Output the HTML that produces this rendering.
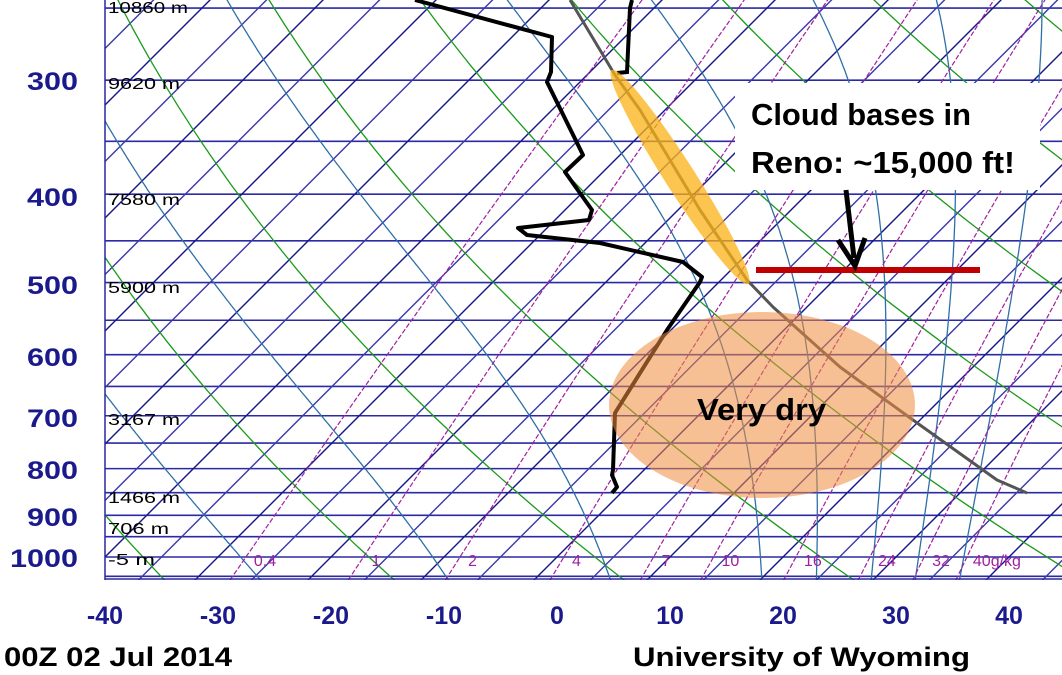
<!DOCTYPE html>
<html><head><meta charset="utf-8"><style>
html,body{margin:0;padding:0;background:#fff;}
body{width:1062px;height:675px;overflow:hidden;position:relative;font-family:"Liberation Sans",sans-serif;}
</style></head><body>
<svg id="s" width="1062" height="675" viewBox="0 0 1062 675" xmlns="http://www.w3.org/2000/svg" style="position:absolute;left:0;top:0">
<defs><clipPath id="c"><rect x="105" y="0" width="957" height="580"/></clipPath></defs>
<g id="grid" clip-path="url(#c)"></g>
<line x1="105" y1="0" x2="105" y2="580" stroke="#2828a0" stroke-width="1.5"/>
<line x1="105" y1="579" x2="1062" y2="579" stroke="#2828a0" stroke-width="1.5"/>
<g font-size="16" fill="#000">
<text x="108" y="13" textLength="80" lengthAdjust="spacingAndGlyphs">10860 m</text>
<text x="108" y="89" textLength="72" lengthAdjust="spacingAndGlyphs">9620 m</text>
<text x="108" y="205" textLength="72" lengthAdjust="spacingAndGlyphs">7580 m</text>
<text x="108" y="293" textLength="72" lengthAdjust="spacingAndGlyphs">5900 m</text>
<text x="108" y="425" textLength="72" lengthAdjust="spacingAndGlyphs">3167 m</text>
<text x="108" y="503" textLength="72" lengthAdjust="spacingAndGlyphs">1466 m</text>
<text x="108" y="534" textLength="61" lengthAdjust="spacingAndGlyphs">706 m</text>
<text x="108" y="565" textLength="47" lengthAdjust="spacingAndGlyphs">-5 m</text>
</g>
<g id="wl" font-size="16" fill="#a020a0"></g>
<g clip-path="url(#c)">
<polyline fill="none" stroke="#000" stroke-width="4" stroke-linejoin="round" points="415,0 552,37 551,72 547,82 583,155 565,172 592,210 589,220 518,228 527,235 600,243 683,262 702,277 700,282 667,330 615,413 613,470 612,475 617,487 612,493"/>
<polyline fill="none" stroke="#555" stroke-width="3" stroke-linejoin="round" points="1027,493 997,480 913,420 840,367 773,307 747,280 700,210 640,110 615,75 570,0"/>
<polyline fill="none" stroke="#000" stroke-width="4" points="632,0 630,8 627,72 617,73"/>
</g>
<ellipse cx="762" cy="405" rx="153" ry="93" fill="rgba(240,140,60,0.55)"/>
<ellipse cx="0" cy="0" rx="127" ry="15" fill="rgba(250,178,20,0.75)" transform="translate(680,177) rotate(57.4)"/>
<rect x="735" y="83" width="305" height="107" fill="#fff"/>
<g font-weight="bold" font-size="31" fill="#000">
<text x="751" y="125" textLength="220" lengthAdjust="spacingAndGlyphs">Cloud bases in</text>
<text x="751" y="173" textLength="264" lengthAdjust="spacingAndGlyphs">Reno: ~15,000 ft!</text>
<text x="697" y="420" textLength="129" lengthAdjust="spacingAndGlyphs">Very dry</text>
</g>
<line x1="756" y1="270" x2="980" y2="270" stroke="#c00000" stroke-width="6"/>
<line x1="846" y1="190" x2="854" y2="258" stroke="#000" stroke-width="5"/>
<polyline points="838,240 855,266 865,238" fill="none" stroke="#000" stroke-width="5"/>
<g font-size="25" font-weight="bold" fill="#1a1a8c">
<text x="27" y="90" textLength="51" lengthAdjust="spacingAndGlyphs">300</text>
<text x="27" y="206" textLength="51" lengthAdjust="spacingAndGlyphs">400</text>
<text x="27" y="294" textLength="51" lengthAdjust="spacingAndGlyphs">500</text>
<text x="27" y="366" textLength="51" lengthAdjust="spacingAndGlyphs">600</text>
<text x="27" y="427" textLength="51" lengthAdjust="spacingAndGlyphs">700</text>
<text x="27" y="479" textLength="51" lengthAdjust="spacingAndGlyphs">800</text>
<text x="27" y="526" textLength="51" lengthAdjust="spacingAndGlyphs">900</text>
<text x="10" y="567" textLength="68" lengthAdjust="spacingAndGlyphs">1000</text>
</g>
<g font-size="25" font-weight="bold" fill="#1a1a8c" text-anchor="middle">
<text x="105" y="624">-40</text><text x="218" y="624">-30</text><text x="331" y="624">-20</text>
<text x="444" y="624">-10</text><text x="557" y="624">0</text><text x="670" y="624">10</text>
<text x="783" y="624">20</text><text x="896" y="624">30</text><text x="1009" y="624">40</text>
</g>
<g font-size="27" font-weight="bold" fill="#000">
<text x="4" y="666" textLength="228" lengthAdjust="spacingAndGlyphs">00Z 02 Jul 2014</text>
<text x="633" y="666" textLength="337" lengthAdjust="spacingAndGlyphs">University of Wyoming</text>
</g>
</svg>
<script>
(function(){
var NS="http://www.w3.org/2000/svg",g=document.getElementById('grid'),wl=document.getElementById('wl');
function Y(p){return 557-396*Math.log(1000/p);}
function X(T,p){return 557+11.3*T+(557-Y(p));}
function add(tag,a,par){var e=document.createElementNS(NS,tag);for(var k in a)e.setAttribute(k,a[k]);(par||g).appendChild(e);return e;}
var ps=[];for(var p=1060;p>=240;p*=0.985)ps.push(p);
function line(f,st,sw,da){var pts=[];for(var i=0;i<ps.length;i++){var T=f(ps[i]);pts.push(X(T,ps[i]).toFixed(1)+','+Y(ps[i]).toFixed(1));}
var a={points:pts.join(' '),fill:'none',stroke:st,'stroke-width':sw};if(da)a['stroke-dasharray']=da;add('polyline',a);}
for(var p=250;p<=1050;p+=50){var y=Y(p);add('line',{x1:105,x2:1062,y1:y,y2:y,stroke:'#2a2aa6','stroke-width':1.6});}
for(var T=-160;T<=60;T+=5){var x1=X(T,1060),y1=Y(1060),x2=X(T,240),y2=Y(240);add('line',{x1:x1,y1:y1,x2:x2,y2:y2,stroke:(T%10==0?'#14148c':'#3a3aa8'),'stroke-width':1.4});}
for(var th=196.5;th<=500;th+=20){(function(th){line(function(p){return th*Math.pow(p/1000,0.2857)-273.15;},'#1a9a1a',1.3);})(th);}
function es(T){return 6.112*Math.exp(17.67*T/(T+243.5));}
[-28,-11,4,18,23,28,32,36].forEach(function(T0){
 function step(p,T,dp){var e=es(T-273.15),rs=0.622*e/(p-e),Lv=2.5e6,Rd=287,cp=1004;
  var num=Rd*T+Lv*rs,den=cp+Lv*Lv*rs*0.622/(Rd*T*T);return T+num/den*dp/p;}
 var Tt=T0+273.15,pp=1000;var down=[];
 while(pp<1060){Tt=step(pp,Tt,2);pp+=2;}down.push([pp,Tt]);
 Tt=T0+273.15;pp=1000;var up=[[1000,Tt]];
 while(pp>240){Tt=step(pp,Tt,-2);pp-=2;up.push([pp,Tt]);}
 var all=down.concat(up);
 var s=all.map(function(q){return X(q[1]-273.15,q[0]).toFixed(1)+','+Y(q[0]).toFixed(1);}).join(' ');
 add('polyline',{points:s,fill:'none',stroke:'#2f6fa8','stroke-width':1.3});
});
[0.4,1,2,4,7,10,16,24,32,40].forEach(function(w){
 var f=function(p){var e=w*p/(622+w),l=Math.log(e/6.112);return 243.5*l/(17.67-l);};
 line(f,'#a020a0',1.2,'5,2');
 var t=add('text',{x:X(f(1000),1000)+(w==40?6:8),y:566},wl);t.textContent=(w==40?'40g/kg':String(w));
});
})();
</script>
</body></html>
